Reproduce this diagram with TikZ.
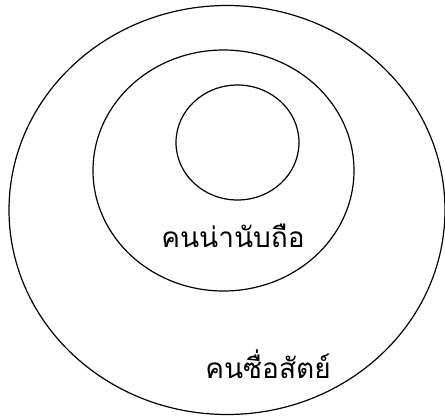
\documentclass[tikz,border=0pt]{standalone}
\usepackage{fontspec}
\newfontfamily\thaifont[Script=Thai]{Loma}
\usetikzlibrary{shapes.geometric}
\tikzset{
    ring/.style={draw, ellipse, line width=1.2pt, inner sep=0pt},
    ringlabel/.style={font=\thaifont\fontsize{28}{30}\selectfont, inner sep=0pt}
}
\begin{document}
\begin{tikzpicture}[x=1pt, y=-1pt]
        \useasboundingbox (0,0) rectangle (445,417);
        \node[ring, minimum width=436pt, minimum height=409pt] (outer) at (227,210) {};
        \node[ring, minimum width=261pt, minimum height=241pt] (middle) at (223.5,170.5) {};
        \node[ring, minimum width=123pt, minimum height=115pt] (inner) at (237.5,142.5) {};
        \node[ringlabel] (trusted) at (233,236) {คนน่านับถือ};
        \node[ringlabel] (honest) at (268,364) {คนซื่อสัตย์};
    \end{tikzpicture}
\end{document}
